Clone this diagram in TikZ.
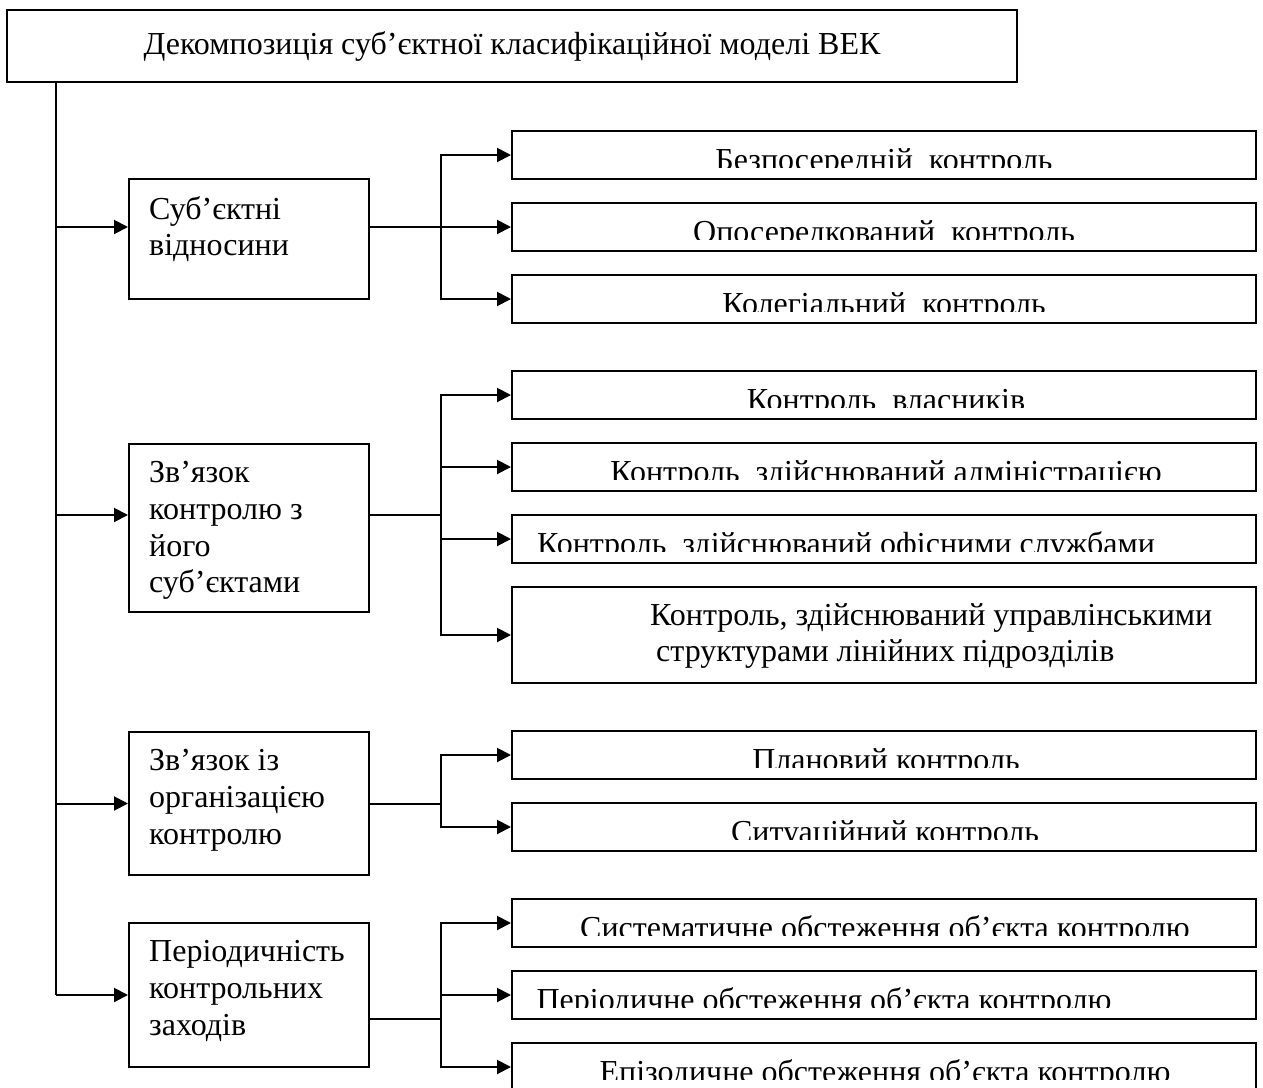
\documentclass[tikz,border=0pt]{standalone}
\usepackage{fontspec}
\setmainfont{Liberation Serif}
\usetikzlibrary{arrows.meta}

\begin{document}
\begin{tikzpicture}[x=1pt, y=-1pt,
		topbox/.style={draw, line width=2pt, minimum width=1010pt, minimum height=72pt, inner sep=0pt, font=\fontsize{32}{36.8}\selectfont},
		catbox/.style={draw, line width=2pt, minimum width=240pt, inner sep=0pt},
		cattext/.style={anchor=north west, align=left, inner sep=0pt, font=\fontsize{32}{36.8}\selectfont},
		leafbox/.style={draw, line width=2pt, minimum width=744pt, minimum height=48pt, inner sep=0pt},
		leaftext/.style n args={3}{path picture={
				\node[anchor=base, inner sep=0pt, font=\fontsize{32}{36.8}\selectfont] (#1) at ([xshift=#2, yshift=-39pt]path picture bounding box.north) {#3};
				\fill[white] ([yshift=-37pt]path picture bounding box.north west) rectangle (path picture bounding box.south east);}},
		conn/.style={line width=2pt},
		arr/.style={line width=2pt, -{Triangle[length=14pt, width=14pt]}}
		]
		\useasboundingbox (0,0) rectangle (1263,1087);

		% Title
		\node[topbox] (title) at (512,46) {Декомпозиція суб’єктної класифікаційної моделі ВЕК};

		% Categories
		\node[catbox, minimum height=120pt] (c1) at (249,239) {};
		\node[catbox, minimum height=168pt] (c2) at (249,528) {};
		\node[catbox, minimum height=143pt] (c3) at (249,803.5) {};
		\node[catbox, minimum height=144pt] (c4) at (249,995) {};
		\node[cattext] (c1t) at ([xshift=21pt, yshift=-18pt]c1.north west) {Суб’єктні\\відносини};
		\node[cattext] (c2t) at ([xshift=21pt, yshift=-18pt]c2.north west) {Зв’язок\\контролю з\\його\\суб’єктами};
		\node[cattext] (c3t) at ([xshift=21pt, yshift=-18pt]c3.north west) {Зв’язок із\\організацією\\контролю};
		\node[cattext] (c4t) at ([xshift=21pt, yshift=-18pt]c4.north west) {Періодичність\\контрольних\\заходів};

		% Kinds of control
		\node[leafbox, leaftext={r11t}{0pt}{Безпосередній~ контроль}] (r11) at (884,155) {};
		\node[leafbox, leaftext={r12t}{0pt}{Опосередкований~ контроль}] (r12) at (884,227) {};
		\node[leafbox, leaftext={r13t}{0pt}{Колегіальний~ контроль}] (r13) at (884,299) {};
		\node[leafbox, leaftext={r21t}{2pt}{Контроль~ власників}] (r21) at (884,395) {};
		\node[leafbox, leaftext={r22t}{2pt}{Контроль~ здійснюваний адміністрацією}] (r22) at (884,467) {};
		\node[leafbox, leaftext={r23t}{-38pt}{Контроль~ здійснюваний офісними службами}] (r23) at (884,539) {};
		\node[leafbox, minimum height=96pt] (r24) at (884,635) {};
		\node[cattext] (r24t) at ([xshift=139pt, yshift=-17pt]r24.north west) {Контроль, здійснюваний управлінськими\\\hspace*{6pt}структурами лінійних підрозділів};
		\node[leafbox, leaftext={r31t}{2pt}{Плановий контроль}] (r31) at (884,755) {};
		\node[leafbox, leaftext={r32t}{1pt}{Ситуаційний контроль}] (r32) at (884,827) {};
		\node[leafbox, leaftext={r41t}{1pt}{Систематичне обстеження об’єкта контролю}] (r41) at (884,923) {};
		\node[leafbox, leaftext={r42t}{-60pt}{Періодичне обстеження об’єкта контролю}] (r42) at (884,995) {};
		\node[leafbox, leaftext={r43t}{1pt}{Епізодичне обстеження об’єкта контролю}] (r43) at (884,1067) {};

		% Connectors
		\coordinate (trunk) at ([xshift=50pt]title.south west);
		\coordinate (bus) at (441,0);
		\coordinate (c1in) at ([yshift=12pt]c1.west);
		\coordinate (c2in) at ([yshift=13pt]c2.west);
		\coordinate (c3in) at (c3.west);
		\coordinate (c4in) at (c4.west);
		\coordinate (c4out) at ([yshift=-24pt]c4.east);
		\draw[conn] (trunk) -- (c4in -| trunk);
		\draw[arr] (c1in -| trunk) -- (c1in);
		\draw[arr] (c2in -| trunk) -- (c2in);
		\draw[arr] (c3in -| trunk) -- (c3in);
		\draw[arr] (c4in -| trunk) -- (c4in);

		\draw[arr] (c1in -| c1.east) -- (c1in -| bus) |- (r11.west);
		\draw[arr] (c1in -| c1.east) -- (c1in -| bus) |- (r12.west);
		\draw[arr] (c1in -| c1.east) -- (c1in -| bus) |- (r13.west);
		\draw[arr] (c2in -| c2.east) -- (c2in -| bus) |- (r21.west);
		\draw[arr] (c2in -| c2.east) -- (c2in -| bus) |- (r22.west);
		\draw[arr] (c2in -| c2.east) -- (c2in -| bus) |- (r23.west);
		\draw[arr] (c2in -| c2.east) -- (c2in -| bus) |- (r24.west);
		\draw[arr] (c3in -| c3.east) -- (c3in -| bus) |- (r31.west);
		\draw[arr] (c3in -| c3.east) -- (c3in -| bus) |- (r32.west);
		\draw[arr] (c4out) -- (c4out -| bus) |- (r41.west);
		\draw[arr] (c4out) -- (c4out -| bus) |- (r42.west);
		\draw[arr] (c4out) -- (c4out -| bus) |- (r43.west);
	\end{tikzpicture}
\end{document}
